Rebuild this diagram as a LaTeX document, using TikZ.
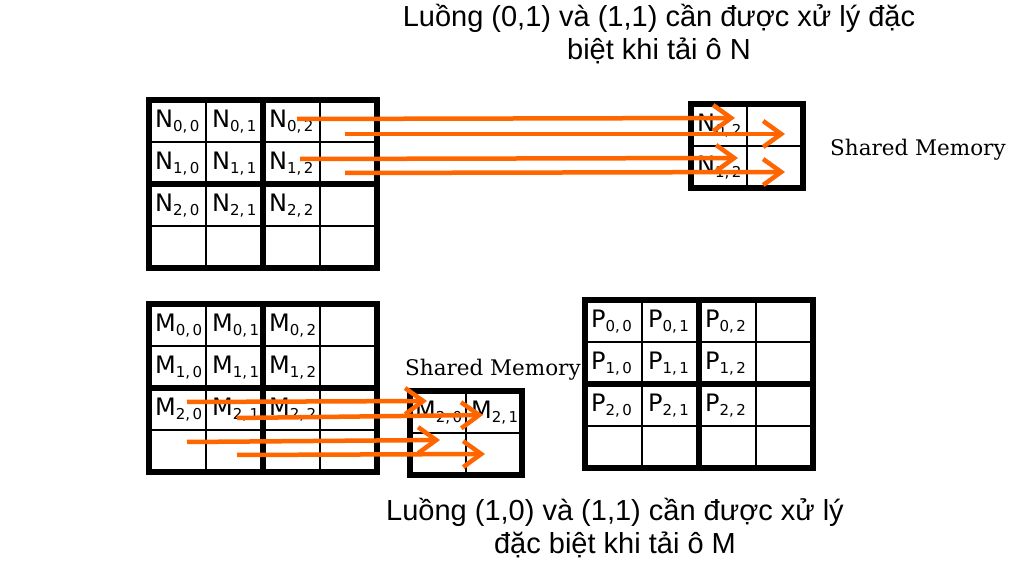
\documentclass[tikz,border=0pt]{standalone}
\usepackage{fontspec}
\newfontfamily\capfont{Liberation Sans}
\newfontfamily\cellfont{DejaVu Sans}
\newfontfamily\memfont{DejaVu Serif}
\usetikzlibrary{arrows.meta}

\definecolor{threadorange}{RGB}{255,102,0}

\newcommand{\elem}[2]{#1\raisebox{-4pt}{\fontsize{15}{15}\selectfont #2}}

\tikzset{
  thinline/.style={line width=1.6pt},
  thickline/.style={line width=5.5pt},
  load/.style={threadorange, line width=4.5pt, -{Straight Barb[length=18pt,width=26pt]}},
  celltext/.style={anchor=base west, inner sep=0pt, font=\cellfont\fontsize{24}{24}\selectfont},
  caption/.style={anchor=north, inner sep=0pt, align=center, font=\capfont\fontsize{29}{33}\selectfont},
  memlabel/.style={anchor=base west, inner sep=0pt, font=\memfont\fontsize{21.5}{21.5}\selectfont}
}

\begin{document}
\begin{tikzpicture}[x=1pt,y=1pt]
  \useasboundingbox (0,0) rectangle (1028,578);

  % the three 4x4 tiled matrices
  \foreach \m/\x/\y in {N/149/310, M/149/106, P/585/110} {
    \begin{scope}[shift={(\x,\y)}]
      \draw[thinline] (57,0) -- (57,168) (171,0) -- (171,168)
        (0,42) -- (228,42) (0,126) -- (228,126);
      \draw[thickline] (0,0) rectangle (228,168) (114,0) -- (114,168) (0,84) -- (228,84);
      \foreach \row in {0,1,2} \foreach \col in {0,1,2}
        \node[celltext] (\m\row\col) at (57*\col+6, 140-42*\row) {\elem{\m}{\row,\,\col}};
    \end{scope}
  }

  % shared memory tiles
  \begin{scope}[shift={(691,390)}]
    \draw[thinline] (56,0) -- (56,84) (0,42) -- (112,42);
    \draw[thickline] (0,0) rectangle (112,84);
    \node[celltext] (sN02) at (6,56) {\elem{N}{0,\,2}};
    \node[celltext] (sN12) at (6,14) {\elem{N}{1,\,2}};
  \end{scope}
  \begin{scope}[shift={(410,103)}]
    \draw[thinline] (56,0) -- (56,84) (0,42) -- (112,42);
    \draw[thickline] (0,0) rectangle (112,84);
    \node[celltext] (sM20) at (5,56) {\elem{M}{2,\,0}};
    \node[celltext] (sM21) at (61,56) {\elem{M}{2,\,1}};
  \end{scope}

  \node[memlabel] (memN) at (830,422) {Shared Memory};
  \node[memlabel] (memM) at (405,202) {Shared Memory};

  % loads into shared memory
  \coordinate (nA1) at (297,459); \coordinate (nB1) at (735,460);
  \coordinate (nA2) at (345,444); \coordinate (nB2) at (785,444);
  \coordinate (nA3) at (300,419); \coordinate (nB3) at (738,420);
  \coordinate (nA4) at (345,405); \coordinate (nB4) at (785,406);
  \coordinate (mA1) at (187,176); \coordinate (mB1) at (427,177);
  \coordinate (mA2) at (237,160); \coordinate (mB2) at (483,163);
  \coordinate (mA3) at (187,136); \coordinate (mB3) at (440,138);
  \coordinate (mA4) at (237,123); \coordinate (mB4) at (485,124);
  \foreach \i in {1,...,4} {
    \draw[load] (nA\i) -- (nB\i);
    \draw[load] (mA\i) -- (mB\i);
  }

  \node[caption] (capN) at (659,574) {Luồng (0,1) và (1,1) cần được xử lý đặc\\biệt khi tải ô N};
  \node[caption] (capM) at (615,80) {Luồng (1,0) và (1,1) cần được xử lý\\đặc biệt khi tải ô M};
\end{tikzpicture}
\end{document}
